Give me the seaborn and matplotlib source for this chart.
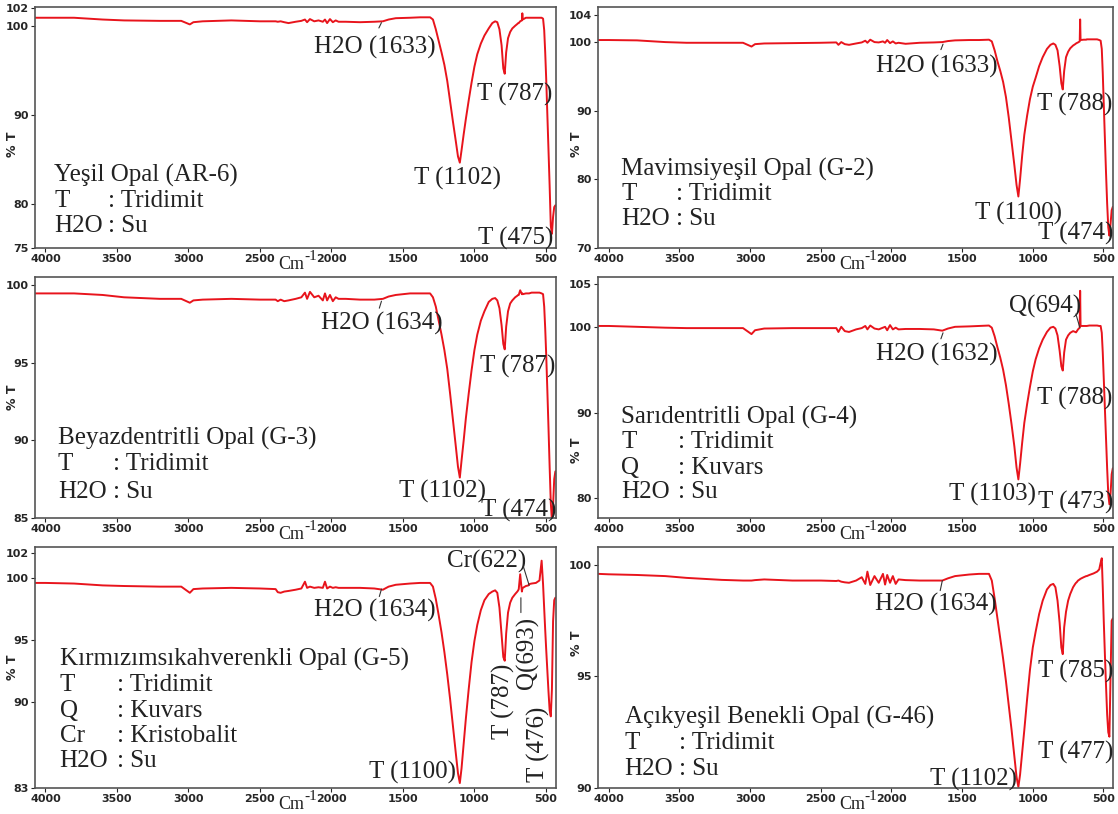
import matplotlib
matplotlib.use("Agg")
import matplotlib.pyplot as plt
import seaborn as sns

# shared wavenumber grid (cm-1)
WN = [
    4075, 4000, 3800, 3600, 3450, 3200, 3050, 2990, 2965, 2900, 2700, 2500,
    2390, 2375, 2355, 2330, 2300, 2250, 2210, 2185, 2170, 2150, 2120, 2090, 2060, 2045, 2030, 2010, 1990, 1970, 1950,
    1900, 1800, 1700, 1640, 1600, 1550, 1450, 1380, 1310,
    1290, 1270, 1250, 1230, 1210, 1190, 1170, 1150, 1130, 1115, 1102, 1090, 1075, 1060, 1040, 1020, 1000, 980, 955, 930, 900, 875,
    855, 840, 825, 810, 798, 788, 778, 765, 750, 735, 715,
    700, 694, 690, 680, 668, 665, 662, 640, 622, 618, 600, 570, 545, 530,
    520, 512, 505, 498, 490, 482, 474, 466, 458, 450, 442, 434, 428,
]

T_AR6 = [
    100.9, 100.9, 100.9, 100.7, 100.6, 100.55, 100.55, 100.15, 100.4, 100.5, 100.6, 100.5,
    100.5, 100.45, 100.5, 100.4, 100.3, 100.45, 100.55, 100.7, 100.4, 100.75, 100.5, 100.6, 100.45, 100.7, 100.3, 100.75, 100.4, 100.6, 100.45,
    100.45, 100.4, 100.45, 100.5, 100.7, 100.85, 100.9, 100.95, 100.95,
    100.7, 99.6, 98.3, 97.0, 95.6, 93.8, 91.5, 89.2, 87.0, 85.3, 84.6, 86.0, 87.8, 89.5, 91.6, 93.6, 95.4, 96.8, 98.0, 98.9, 99.7, 100.3,
    100.5, 100.4, 99.6, 97.8, 95.2, 94.6, 97.0, 98.6, 99.3, 99.7, 100.0,
    100.2, 100.3, 100.3, 100.5, 100.6, 101.4, 100.7, 100.9, 100.9, 100.9, 100.9, 100.9, 100.9, 100.9,
    100.8, 99.5, 97.0, 94.0, 90.0, 86.0, 82.0, 77.5, 76.6, 78.5, 79.6, 79.8, 79.8,
]

T_G2 = [
    100.3, 100.3, 100.25, 100.0, 99.9, 99.9, 99.9, 99.35, 99.7, 99.8, 99.85, 99.9,
    99.95, 99.6, 100.0, 99.7, 99.6, 99.8, 99.95, 100.2, 99.9, 100.35, 100.0, 99.95, 100.1, 99.9, 100.3, 99.85, 100.1, 99.8, 99.9,
    99.75, 99.9, 99.95, 100.0, 100.15, 100.25, 100.3, 100.3, 100.35,
    100.1, 98.8, 97.2, 95.8, 94.2, 92.0, 89.0, 85.5, 82.0, 79.2, 77.5, 80.0, 83.5, 86.5, 89.3, 91.7, 93.5, 94.8, 96.5, 97.8, 99.0, 99.6,
    99.8, 99.6, 98.8, 96.5, 94.0, 93.1, 95.8, 97.8, 98.6, 99.1, 99.5,
    99.7, 99.8, 99.85, 99.95, 100.1, 103.3, 100.3, 100.35, 100.35, 100.4, 100.4, 100.4, 100.4, 100.3,
    100.2, 99.0, 95.5, 91.0, 86.0, 81.0, 76.5, 73.0, 71.8, 73.5, 75.5, 76.0, 76.0,
]

T_G3 = [
    99.45, 99.45, 99.45, 99.35, 99.2, 99.1, 99.1, 98.85, 99.0, 99.05, 99.1, 99.05,
    99.05, 98.95, 99.05, 98.95, 99.0, 99.1, 99.2, 99.5, 99.1, 99.55, 99.2, 99.3, 99.0, 99.45, 99.0, 99.35, 98.95, 99.2, 99.1,
    99.1, 99.05, 99.05, 99.1, 99.25, 99.35, 99.45, 99.45, 99.45,
    99.2, 98.6, 97.7, 96.8, 95.8, 94.6, 93.0, 91.3, 89.6, 88.3, 87.6, 88.7, 90.0, 91.4, 93.0, 94.5, 95.8, 96.8, 97.7, 98.3, 98.9, 99.1,
    99.15, 99.0, 98.5, 97.4, 96.2, 95.85, 97.3, 98.3, 98.8, 99.0, 99.2,
    99.3, 99.35, 99.35, 99.65, 99.4, 99.45, 99.4, 99.45, 99.45, 99.45, 99.5, 99.5, 99.5, 99.45,
    99.4, 98.6, 97.2, 95.5, 93.2, 90.8, 88.3, 86.0, 84.8, 85.8, 87.5, 88.0, 88.0,
]

T_G4 = [
    100.1, 100.1, 100.0, 99.9, 99.85, 99.85, 99.85, 99.15, 99.6, 99.8, 99.85, 99.85,
    99.85, 99.4, 100.0, 99.5, 99.4, 99.7, 99.85, 100.1, 99.7, 100.15, 99.8, 99.7, 99.9, 100.0, 99.6, 100.2, 99.7, 99.9, 99.7,
    99.75, 99.75, 99.7, 99.55, 99.8, 100.0, 100.05, 100.1, 100.15,
    99.9, 98.9, 97.6, 96.4, 95.0, 93.2, 91.0, 88.6, 86.0, 83.6, 82.2, 84.0, 86.5, 88.8, 91.0, 93.0, 94.8, 96.2, 97.5, 98.5, 99.4, 99.9,
    100.0, 99.8, 99.0, 97.2, 95.4, 94.9, 97.0, 98.5, 99.0, 99.3, 99.5,
    99.4, 99.35, 99.45, 99.7, 99.9, 104.2, 100.1, 100.1, 100.1, 100.1, 100.15, 100.15, 100.15, 100.1,
    100.1, 99.3, 97.0, 94.0, 90.5, 87.0, 83.5, 80.5, 79.3, 80.5, 82.8, 83.5, 83.5,
]

T_G5 = [
    99.6, 99.6, 99.55, 99.4, 99.35, 99.3, 99.3, 98.8, 99.1, 99.15, 99.2, 99.15,
    99.1, 98.85, 98.8, 98.9, 98.95, 99.05, 99.15, 99.7, 99.2, 99.3, 99.2, 99.25, 99.2, 99.7, 99.15, 99.3, 99.2, 99.25, 99.2,
    99.2, 99.2, 99.15, 99.05, 99.3, 99.45, 99.55, 99.6, 99.6,
    99.3, 98.3, 97.0, 95.6, 94.0, 92.2, 90.2, 88.0, 85.8, 84.2, 83.4, 84.6, 86.6, 88.6, 91.0, 93.2, 94.9, 96.2, 97.4, 98.2, 98.7, 98.9,
    99.0, 98.8, 97.6, 95.4, 93.6, 93.3, 95.5, 97.2, 98.0, 98.4, 98.7,
    98.9, 99.0, 99.1, 100.3, 98.9, 99.1, 99.2, 99.35, 99.4, 99.5, 99.55, 99.6, 99.8, 101.4,
    99.5, 97.5, 95.8, 94.2, 92.5, 90.8, 89.3, 88.8, 91.0, 96.5, 98.2, 98.4, 98.4,
]

T_G46 = [
    99.6, 99.58, 99.55, 99.5, 99.42, 99.33, 99.3, 99.3, 99.32, 99.35, 99.3, 99.3,
    99.28, 99.3, 99.25, 99.22, 99.2, 99.3, 99.45, 99.15, 99.7, 99.1, 99.5, 99.2, 99.6, 99.12, 99.55, 99.2, 99.5, 99.15, 99.35,
    99.32, 99.3, 99.3, 99.3, 99.4, 99.5, 99.57, 99.6, 99.6,
    99.3, 98.5, 97.6, 96.7, 95.8, 94.8, 93.7, 92.6, 91.4, 90.5, 90.05, 90.6, 91.6, 92.6, 94.0, 95.3, 96.3, 97.0, 97.8, 98.4, 98.9, 99.1,
    99.15, 99.0, 98.4, 97.4, 96.3, 96.0, 97.2, 97.9, 98.4, 98.7, 99.0,
    99.15, 99.2, 99.22, 99.3, 99.35, 99.37, 99.38, 99.45, 99.5, 99.5, 99.55, 99.62, 99.7, 99.8,
    100.1, 100.3, 99.0, 97.5, 96.0, 94.6, 93.3, 92.5, 92.3, 95.0, 97.5, 97.6, 97.6,
]

XTICKS = [4000, 3500, 3000, 2500, 2000, 1500, 1000, 500]

PANELS = [
    dict(vals=T_AR6, ylim=(75, 102.1), yticks=[75, 80, 90, 100, 102], ylab_y=0.43,
         title="Yeşil Opal (AR-6)", keys=[("T", ": Tridimit"), ("H2O", ": Su")],
         ly=[83.2, 80.3, 77.5], lx=(3937, 3562),
         notes=[("H2O (1633)", 1695, 97.6, 0), ("T (787)", 720, 92.3, 0),
                ("T (1102)", 1120, 82.8, 0), ("T (475)", 712, 76.1, 0)],
         leaders=[((1668, 99.75), (1650, 100.35))]),
    dict(vals=T_G2, ylim=(70, 105.1), yticks=[70, 80, 90, 100, 104], ylab_y=0.43,
         title="Mavimsiyeşil Opal (G-2)", keys=[("T", ": Tridimit"), ("H2O", ": Su")],
         ly=[81.4, 77.9, 74.3], lx=(3912, 3525),
         notes=[("H2O (1633)", 1682, 96.4, 0), ("T (788)", 707, 90.9, 0),
                ("T (1100)", 1100, 75.0, 0), ("T (474)", 700, 72.1, 0)],
         leaders=[((1650, 98.9), (1635, 99.7))]),
    dict(vals=T_G3, ylim=(85, 100.5), yticks=[85, 90, 95, 100], ylab_y=0.50,
         title="Beyazdentritli Opal (G-3)", keys=[("T", ": Tridimit"), ("H2O", ": Su")],
         ly=[90.1, 88.45, 86.7], lx=(3912, 3525),
         notes=[("H2O (1634)", 1645, 97.5, 0), ("T (787)", 700, 94.75, 0),
                ("T (1102)", 1225, 86.7, 0), ("T (474)", 690, 85.5, 0)],
         leaders=[((1665, 98.5), (1650, 98.95))]),
    dict(vals=T_G4, ylim=(77.7, 105.8), yticks=[80, 90, 100, 105], ylab_y=0.28,
         title="Sarıdentritli Opal (G-4)", keys=[("T", ": Tridimit"), ("Q", ": Kuvars"), ("H2O", ": Su")],
         ly=[89.4, 86.6, 83.5, 80.7], lx=(3912, 3512),
         notes=[("Q(694)", 912, 102.4, 0), ("H2O (1632)", 1682, 96.8, 0),
                ("T (788)", 707, 91.7, 0), ("T (1103)", 1282, 80.5, 0), ("T (473)", 700, 79.5, 0)],
         leaders=[((1650, 98.6), (1635, 99.3)), ((695, 101.5), (667, 99.9))]),
    dict(vals=T_G5, ylim=(83, 102.5), yticks=[83, 90, 95, 100, 102], ylab_y=0.50,
         title="Kırmızımsıkahverenkli Opal (G-5)",
         keys=[("T", ": Tridimit"), ("Q", ": Kuvars"), ("Cr", ": Kristobalit"), ("H2O", ": Su")],
         ly=[93.4, 91.3, 89.2, 87.2, 85.2], lx=(3900, 3500),
         notes=[("Cr(622)", 912, 101.3, 0), ("H2O (1634)", 1693, 97.4, 0),
                ("T (787)", 800, 90.0, 90), ("Q(693)", 632, 93.9, 90),
                ("T (476)", 550, 86.5, 90), ("T (1100)", 1432, 84.3, 0)],
         leaders=[((1665, 98.5), (1650, 99.1)), ((657, 100.9), (617, 99.4)),
                  ((675, 98.4), (675, 97.2))]),
    dict(vals=T_G46, ylim=(90, 100.8), yticks=[90, 95, 100], ylab_y=0.60,
         title="Açıkyeşil Benekli Opal (G-46)", keys=[("T", ": Tridimit"), ("H2O", ": Su")],
         ly=[93.15, 92.0, 90.85], lx=(3887, 3500),
         notes=[("H2O (1634)", 1687, 98.23, 0), ("T (785)", 700, 95.23, 0),
                ("T (477)", 700, 91.6, 0), ("T (1102)", 1420, 90.4, 0)],
         leaders=[((1655, 98.85), (1640, 99.3))]),
]

RED = "#e8141c"
INK = "#222222"
SERIF = "Liberation Serif"
FS = 18

sns.set_style("ticks")
plt.rcParams["font.family"] = ["DejaVu Sans"]

fig = plt.figure(figsize=(11.18, 8.14), dpi=100)
lefts = [0.031, 0.535]
widths = [0.466, 0.4606]
bottoms = [0.6953, 0.3636, 0.0319]

for i, p in enumerate(PANELS):
    r, c = divmod(i, 2)
    ax = fig.add_axes([lefts[c], bottoms[r], widths[c], 0.296])
    sns.lineplot(x=WN, y=p["vals"], ax=ax, color=RED, linewidth=1.4,
                 sort=False, estimator=None)
    ax.set_xlim(4075, 432)
    ax.set_ylim(*p["ylim"])
    ax.set_xticks(XTICKS)
    ax.set_yticks(p["yticks"])
    ax.tick_params(direction="out", length=3, width=0.8, pad=1.5, labelsize=8)
    for lab in ax.get_xticklabels() + ax.get_yticklabels():
        lab.set_fontweight("bold")
    for s in ax.spines.values():
        s.set_color("#555555")
        s.set_linewidth(1.2)
    ax.set_ylabel("% T", fontsize=9, fontweight="bold")
    ax.yaxis.set_label_coords(-0.03, p["ylab_y"])
    ax.set_xlabel("")
    ax.text(0.518, -0.07, "Cm", transform=ax.transAxes, ha="right", va="center",
            fontsize=13, family=SERIF, color=INK)
    ax.text(0.518, -0.035, "-1", transform=ax.transAxes, ha="left", va="center",
            fontsize=11, family=SERIF, color=INK)

    # sample legend block
    x0, x1 = p["lx"]
    ax.text(x0, p["ly"][0], p["title"], ha="left", va="center",
            fontsize=FS, family=SERIF, color=INK)
    for (k, v), yy in zip(p["keys"], p["ly"][1:]):
        ax.text(x0, yy, k, ha="left", va="center", fontsize=FS, family=SERIF, color=INK)
        ax.text(x1, yy, v, ha="left", va="center", fontsize=FS, family=SERIF, color=INK)

    for txt, xx, yy, rot in p["notes"]:
        ax.text(xx, yy, txt, ha="center", va="center", rotation=rot,
                fontsize=FS, family=SERIF, color=INK)
    for a, b in p["leaders"]:
        ax.annotate("", xy=b, xytext=a,
                    arrowprops=dict(arrowstyle="-", lw=0.8, color="#333333",
                                    shrinkA=0, shrinkB=0))

fig.savefig("out.png", dpi=100, facecolor="white")
